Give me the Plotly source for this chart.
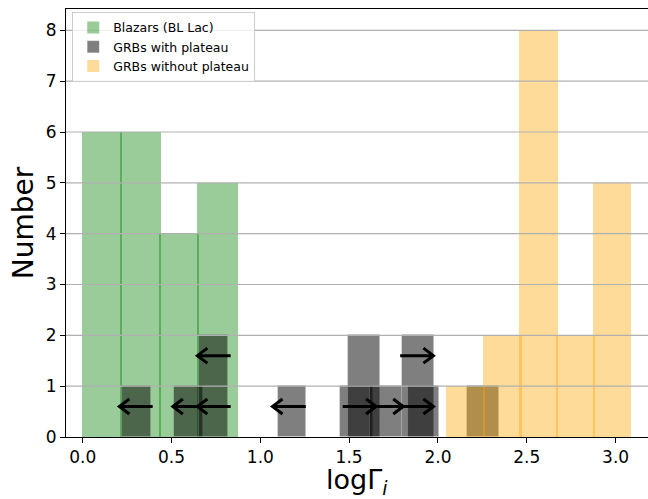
import plotly.graph_objects as go

# ---------------- data ----------------
blazar_edges = [0.0, 0.2167, 0.4333, 0.65, 0.8667]
blazar_counts = [6, 6, 4, 5]

nopl_edges = [2.053, 2.259, 2.465, 2.671, 2.877, 3.083]
nopl_counts = [1, 2, 8, 2, 5]

plat_left = [0.223, 0.514, 0.657, 1.098, 1.449, 1.492, 1.617, 1.796, 1.830, 2.166]
plat_right = [0.383, 0.676, 0.820, 1.256, 1.637, 1.674, 1.796, 1.980, 2.008, 2.346]
plat_counts = [1, 1, 2, 1, 1, 2, 1, 2, 1, 1]

# limits: value (arrow tail), direction (-1 upper limit, +1 lower limit), level
limit_values = [0.394, 0.695, 0.833, 1.256, 0.833, 1.464, 1.617, 1.787, 1.787]
limit_dirs = [-1, -1, -1, -1, -1, 1, 1, 1, 1]
limit_levels = [0.6, 0.6, 0.6, 0.6, 1.6, 0.6, 0.6, 0.6, 1.6]

x_ticks = [0.0, 0.5, 1.0, 1.5, 2.0, 2.5, 3.0]
y_ticks = [0, 1, 2, 3, 4, 5, 6, 7, 8]

x_title = "logΓ<sub><i>i</i></sub>"
y_title = "Number"

# ---------------- styles ----------------
W, H = 660, 499          # plot runs past the right edge of the 648px window, as in the reference
WIN_W = 648
M = dict(l=66, r=0, t=9, b=62)
XR = [-0.094, 3.250]
YR = [0, 8.42]
FONT = "DejaVu Sans"
ARROW_LEN = 0.1875
EDGE_OVL = 0.012

plot_w = W - M["l"] - M["r"]
plot_h = H - M["t"] - M["b"]
px_x = plot_w / (XR[1] - XR[0])
px_y = plot_h / (YR[1] - YR[0])

fig = go.Figure()


def hist_trace(edges, counts, color, name, ovl):
    centers = [(a + b) / 2 for a, b in zip(edges[:-1], edges[1:])]
    widths = [(b - a) + ovl for a, b in zip(edges[:-1], edges[1:])]
    return go.Bar(x=centers, y=counts, width=widths, name=name,
                  marker=dict(color=color, line=dict(width=0)))


fig.add_trace(hist_trace(blazar_edges, blazar_counts, "rgba(0,128,0,0.4)",
                         "Blazars (BL Lac)", EDGE_OVL))

fig.add_trace(go.Bar(
    x=[(a + b) / 2 for a, b in zip(plat_left, plat_right)],
    y=plat_counts,
    width=[b - a for a, b in zip(plat_left, plat_right)],
    name="GRBs with plateau",
    marker=dict(color="rgba(0,0,0,0.5)", line=dict(width=0.8, color="rgba(255,255,255,0.2)")),
))

fig.add_trace(hist_trace(nopl_edges, nopl_counts, "rgba(255,165,0,0.4)",
                         "GRBs without plateau", EDGE_OVL))

# arrows drawn as open-V lines
bx = 10 / px_x
by = 7.5 / px_y
ax, ay = [], []
for v, d, lv in zip(limit_values, limit_dirs, limit_levels):
    head = v + d * ARROW_LEN
    ax += [v, head, None, head - d * bx, head, head - d * bx, None]
    ay += [lv, lv, None, lv + by, lv, lv - by, None]
fig.add_trace(go.Scatter(x=ax, y=ay, mode="lines", showlegend=False,
                         line=dict(color="black", width=3), hoverinfo="skip"))

# horizontal grid above bars (as in the reference)
shapes = []
for t in y_ticks[1:]:
    shapes.append(dict(type="line", xref="paper", x0=0, x1=1, yref="y", y0=t, y1=t,
                       line=dict(color="#b0b0b0", width=1.2), layer="above"))

# x-axis title centred on the visible part of the axes
vis_center = ((M["l"] + WIN_W) / 2 - M["l"]) / plot_w
annotations = [dict(text=x_title, xref="paper", yref="paper", x=vis_center, y=0,
                    xanchor="center", yanchor="top", yshift=-25, showarrow=False,
                    font=dict(size=27, family=FONT, color="black"))]

fig.update_layout(
    width=W, height=H, margin=M,
    barmode="overlay", bargap=0,
    plot_bgcolor="white", paper_bgcolor="white",
    font=dict(family=FONT, color="black"),
    shapes=shapes,
    annotations=annotations,
    showlegend=True,
    legend=dict(x=0.0105, y=0.993, xanchor="left", yanchor="top",
                bgcolor="rgba(255,255,255,0.8)", bordercolor="#cccccc", borderwidth=1,
                font=dict(size=12.5, family=FONT), tracegroupgap=0),
    xaxis=dict(range=XR, tickvals=x_ticks, ticktext=[f"{t:.1f}" for t in x_ticks],
               automargin=False,
               showgrid=False, zeroline=False, showline=True, linecolor="black",
               linewidth=1, mirror=True, ticks="outside", ticklen=5, tickwidth=1,
               tickcolor="black", tickfont=dict(size=17)),
    yaxis=dict(range=YR, tickvals=y_ticks, showgrid=False, zeroline=False,
               automargin=False,
               showline=True, linecolor="black", linewidth=1, ticks="outside",
               ticklen=5, tickwidth=1, tickcolor="black", tickfont=dict(size=17),
               title=dict(text=y_title, font=dict(size=28), standoff=3)),
)

fig.write_html("out.html", config={"displayModeBar": False},
               post_script="document.body.style.margin='0';document.body.style.overflow='hidden';")
